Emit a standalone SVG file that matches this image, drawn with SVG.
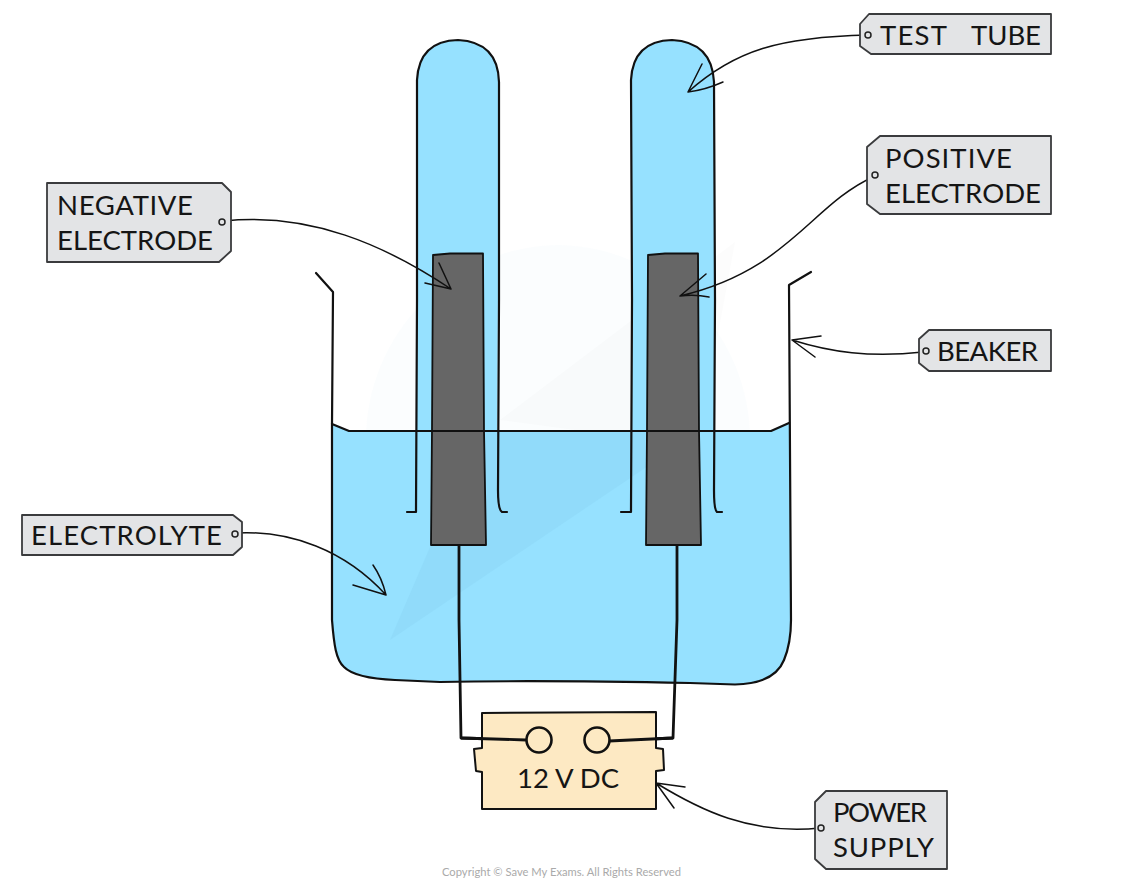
<svg xmlns="http://www.w3.org/2000/svg" width="1122" height="882" viewBox="0 0 1122 882">
<style>
.ln{fill:none;stroke:#111;stroke-width:2.2;stroke-linecap:round;stroke-linejoin:round}
.thin{fill:none;stroke:#111;stroke-width:1.5;stroke-linecap:round;stroke-linejoin:round}
.wire{fill:none;stroke:#111;stroke-width:2.8;stroke-linejoin:round}
.tube{fill:#96e1ff}
.elec{fill:#666;stroke:#111;stroke-width:1.8;stroke-linejoin:round}
.tag{fill:#e3e4e6;stroke:#3a3b3d;stroke-width:1.8;stroke-linejoin:round}
.hole{fill:#e3e4e6;stroke:#222;stroke-width:1.5}
text{font-family:"Lato","Open Sans","Liberation Sans",sans-serif;fill:#151515;font-size:27.5px}
.copy{font-size:11.2px;fill:#aaa}
</style>
<rect width="1122" height="882" fill="#fff"/>
<path id="watermark" d="M560 245A195 195 0 0 0 366 440A195 195 0 0 0 750 440A195 195 0 0 0 560 245Z" fill="#7ac4e8" fill-opacity=".03"/>
<path id="watermark-slash" d="M735 242L500 420L590 432L500 431L390 640L700 431Z" fill="#888" fill-opacity=".025"/>
<g id="tube-fills">
<path class="tube" d="M417 512V80Q419 41 458 40Q498 42 499 82L497 512Z"/>
<path class="tube" d="M632 512L631 80Q633 41 672 40Q712 42 714 82L715 512Z"/>
</g>
<g id="beaker">
<path d="M332 424L349 431H771L789 423L791 620C791 635 789 648 784 660C778 675 762 684 735 684.5L690 683Q540 680 440 682L395 680C372 679 352 675 344 667C336 660 334 645 332 620Z" fill="#96e1ff"/>
<path d="M480 431H700L390 640Z" fill="#80c8e8" fill-opacity=".22"/>
<path class="ln" d="M316 273L333 292L332 424L332 620C334 645 336 660 344 667C352 675 372 679 395 680L440 682Q540 680 690 683L735 684.5C762 684 778 675 784 660C789 648 791 635 791 620L789 285L811 272"/>
</g>
<g id="tube-outlines">
<path class="ln" d="M407 512H416L417 300V80Q419 41 458 40Q498 42 499 82L499 300L498 490Q498 510 502 512H507"/>
<path class="ln" d="M621 512H631L632 300L631 80Q633 41 672 40Q712 42 714 82L715 300L714 490Q714 510 717 512H722"/>
</g>
<g id="electrodes">
<path class="elec" d="M433 255L450 253.500H483L484 430L486 545H431L432 430Z"/>
<path class="elec" d="M648 255L665 253.500H698L699 430L701 545L646 545L647 430Z"/>
</g>
<path id="water-line" class="ln" d="M332 424L349 431H771L789 423"/>
<g id="connectors">
<path class="wire" d="M459 546V620L461 738L526 740"/>
<path class="wire" d="M677 546V620L673 738L609 741"/>
<path class="thin" d="M224 221C310 212 385 245 451 289M439 263L451 289L425 283"/>
<path class="thin" d="M875 176C810 205 790 270 680 296Q695 294 709 297M706 274L680 296"/>
<path class="thin" d="M868 35C780 37 735 50 688 92M702 64L688 92Q705 90 723 82"/>
<path class="thin" d="M923 352C870 358 830 352 792 340M821 336L792 340L815 357"/>
<path class="thin" d="M236 533C290 530 345 550 386 595Q382 578 373 565M386 595L353 585"/>
<path class="thin" d="M820 828C750 835 700 810 656 783M685 787L656 783L674 808"/>
</g>
<g id="power-supply">
<path d="M482 713L656 712V748L663 749L664 770L656 771L656 809L482 809V772L476 771L474 749L482 748Z" fill="#fde9c3" stroke="#111" stroke-width="2" stroke-linejoin="round"/>
<path class="wire" d="M461 738L526 740M609 741L673 738"/>
<circle cx="539" cy="740" r="12.5" fill="#fde9c3" stroke="#111" stroke-width="2.6"/>
<circle cx="597" cy="740" r="12.5" fill="#fde9c3" stroke="#111" stroke-width="2.6"/>
<text x="517" y="788" textLength="102">12 V DC</text>
</g>
<g id="label-test-tube">
<path class="tag" d="M869 14H1051V54H871L860 46V24Z"/>
<circle class="hole" cx="868" cy="35" r="3"/>
<text x="880" y="45" textLength="67">TEST</text>
<text x="971" y="45" textLength="70">TUBE</text>
</g>
<g id="label-positive">
<path class="tag" d="M880 136H1051V214H880L867 204V147Z"/>
<circle class="hole" cx="875" cy="175" r="3"/>
<text x="885" y="168" textLength="127">POSITIVE</text>
<text x="885" y="203" textLength="156">ELECTRODE</text>
</g>
<g id="label-negative">
<path class="tag" d="M47 183H222L231 192V251L219 262H47Z"/>
<circle class="hole" cx="222" cy="222" r="3"/>
<text x="57" y="215" textLength="136">NEGATIVE</text>
<text x="57" y="250" textLength="156">ELECTRODE</text>
</g>
<g id="label-beaker">
<path class="tag" d="M929 330H1051V371H929L919 363V339Z"/>
<circle class="hole" cx="926" cy="351" r="3"/>
<text x="937" y="361" textLength="101">BEAKER</text>
</g>
<g id="label-electrolyte">
<path class="tag" d="M22 515H233L242 522V547L233 555H22Z"/>
<circle class="hole" cx="235" cy="534" r="3"/>
<text x="31" y="545" textLength="191">ELECTROLYTE</text>
</g>
<g id="label-power">
<path class="tag" d="M826 791H947V869H826L815 859V802Z"/>
<circle class="hole" cx="821" cy="828" r="3"/>
<text x="833" y="822" textLength="94">POWER</text>
<text x="833" y="857" textLength="101">SUPPLY</text>
</g>
<text class="copy" x="442" y="876" textLength="239">Copyright © Save My Exams. All Rights Reserved</text>
</svg>
